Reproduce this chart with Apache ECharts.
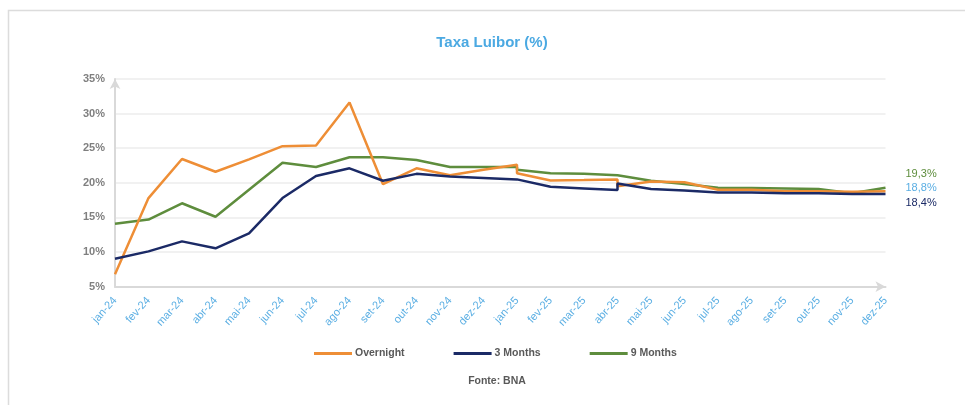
<!DOCTYPE html>
<html>
<head>
<meta charset="utf-8">
<script src="https://cdn.jsdelivr.net/npm/echarts@6/dist/echarts.min.js"></script>
<style>
html,body{margin:0;padding:0;background:#fff;}
#chart{width:965px;height:405px;}
</style>
</head>
<body>
<div id="chart"></div>
<script>
// Categories (monthly)
const months = ['jan-24','fev-24','mar-24','abr-24','mai-24','jun-24','jul-24','ago-24','set-24','out-24','nov-24','dez-24',
                'jan-25','fev-25','mar-25','abr-25','mai-25','jun-25','jul-25','ago-25','set-25','out-25','nov-25','dez-25'];

// Series values (%), one per month
const overnight = [6.8,17.8,23.45,21.6,23.4,25.3,25.4,31.6,19.8,22.1,21.1,21.9,
                   22.6,20.35,20.4,20.5,20.2,20.1,19.0,19.0,18.8,18.8,18.7,18.8];
const threeMonths = [9.05,10.1,11.55,10.55,12.7,17.8,21.0,22.1,20.3,21.3,20.9,20.7,
                     20.5,19.45,19.2,18.95,19.1,18.9,18.6,18.6,18.5,18.5,18.4,18.4];
const nineMonths = [14.1,14.7,17.05,15.1,19.0,22.9,22.3,23.7,23.7,23.3,22.3,22.3,
                    22.3,21.4,21.3,21.1,20.3,19.85,19.3,19.25,19.2,19.1,18.5,19.3];

// Second readings within the same month (vertical jumps)
const jumpMonths = ['jan-25','abr-25'];
const overnightJump = [21.4,19.5];
const threeMonthsJump = [20.5,19.9];
const nineMonthsJump = [21.9,21.1];

const yTicks = [5,10,15,20,25,30,35];

function build(vals, jumps){
  const out = [];
  vals.forEach((v,i)=>{
    out.push([i,v]);
    const j = jumpMonths.indexOf(months[i]);
    if (j >= 0) out.push([i, jumps[j]]);
  });
  return out;
}
const fmt = v => v.toFixed(1).replace('.',',') + '%';

const chart = echarts.init(document.getElementById('chart'), null, {renderer:'canvas'});
const axisGray = '#d9d9d9';
const FF = '"Liberation Sans", Arial, sans-serif';
chart.setOption({
  animation:false,
  backgroundColor:'#ffffff',
  grid:{left:115, right:79.5, top:79, bottom:118.3, containLabel:false},
  graphic:[
    {type:'rect', shape:{x:8.5,y:10.5,width:980,height:420}, style:{fill:'none',stroke:'#dcdcdc',lineWidth:1.5}, silent:true},
    {type:'text', x:492, y:43, style:{text:'Taxa Luibor (%)', fill:'#4BA9E2', font:'bold 15px ' + FF, textAlign:'center', textVerticalAlign:'middle'}},
    {type:'text', x:497, y:381, style:{text:'Fonte: BNA', fill:'#595959', font:'bold 10.5px ' + FF, textAlign:'center', textVerticalAlign:'middle'}}
  ],
  legend:{
    left:309, top:343, icon:'rect', itemWidth:38, itemHeight:3, itemGap:49,
    textStyle:{color:'#595959', fontWeight:'bold', fontSize:10.5, fontFamily:FF, padding:[0,0,0,-2]},
    data:['Overnight','3 Months','9 Months']
  },
  xAxis:{
    type:'value', min:0, max:months.length-1, interval:1,
    axisLine:{show:true, onZero:false, symbol:['none','arrow'], symbolSize:[8,10], lineStyle:{color:axisGray, width:2}},
    axisTick:{show:false},
    splitLine:{show:false},
    axisLabel:{
      formatter: v => months[v] || '',
      rotate:48, margin:12, color:'#5AAEE3', fontSize:11, fontFamily:FF
    }
  },
  yAxis:{
    type:'value', min:yTicks[0], max:yTicks[yTicks.length-1], interval:5,
    axisLine:{show:true, symbol:['none','arrow'], symbolSize:[8,10], lineStyle:{color:axisGray, width:2}},
    axisTick:{show:false},
    splitLine:{show:true, lineStyle:{color:'#ececec', width:1.5}},
    axisLabel:{formatter:'{value}%', margin:10, color:'#7f7f7f', fontWeight:'bold', fontSize:11, fontFamily:FF}
  },
  series:[
    {name:'Overnight', type:'line', data:build(overnight, overnightJump), symbol:'none',
     lineStyle:{color:'#EE8E36', width:2.5}, itemStyle:{color:'#EE8E36'},
     endLabel:{show:true, formatter:p=>fmt(p.value[1]), color:'#5AAEE3', fontSize:11, offset:[12,-3], fontFamily:FF}, z:3},
    {name:'3 Months', type:'line', data:build(threeMonths, threeMonthsJump), symbol:'none',
     lineStyle:{color:'#1B2A66', width:2.5}, itemStyle:{color:'#1B2A66'},
     endLabel:{show:true, formatter:p=>fmt(p.value[1]), color:'#1B2A66', fontSize:11, offset:[12,9], fontFamily:FF}, z:4},
    {name:'9 Months', type:'line', data:build(nineMonths, nineMonthsJump), symbol:'none',
     lineStyle:{color:'#5E8D3D', width:2.5}, itemStyle:{color:'#5E8D3D'},
     endLabel:{show:true, formatter:p=>fmt(p.value[1]), color:'#5E8D3D', fontSize:11, offset:[12,-14], fontFamily:FF}, z:2}
  ]
});
</script>
</body>
</html>
